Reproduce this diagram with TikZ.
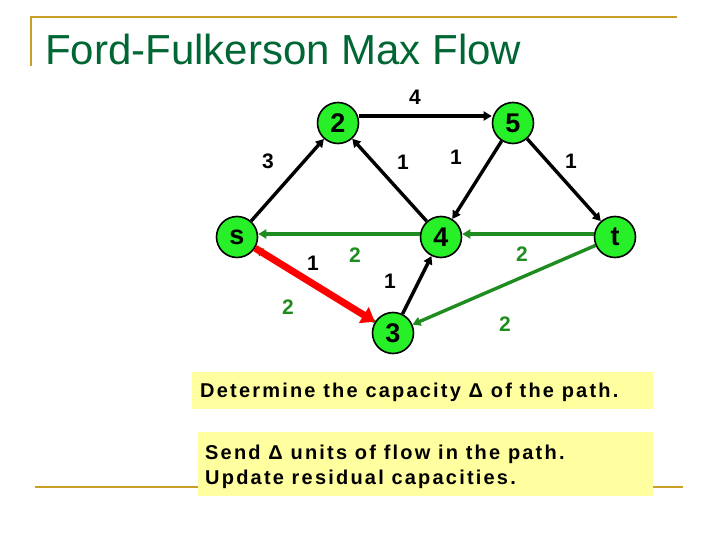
\documentclass[tikz,border=0pt]{standalone}
\usepackage{fontspec}
\setmainfont{Liberation Sans}
\usetikzlibrary{arrows.meta}
\definecolor{gold}{RGB}{200,160,40}
\definecolor{titlegreen}{RGB}{0,102,51}
\definecolor{nodegreen}{RGB}{40,240,40}
\definecolor{edgegreen}{RGB}{30,140,30}
\definecolor{boxyellow}{RGB}{255,255,160}
\tikzset{
  vtx/.style={circle,draw=black,line width=1.6pt,fill=nodegreen,minimum size=41pt,inner sep=0pt,font=\fontsize{27}{27}\selectfont\bfseries},
  blk/.style={draw=black,line width=3.4pt,-{Triangle[length=8pt,width=9pt]}},
  grn/.style={draw=edgegreen,line width=3.4pt,-{Triangle[length=8pt,width=9pt]}},
  redarr/.style={draw=red,line width=7pt,-{Triangle[length=13pt,width=18pt]}},
  lbl/.style={font=\fontsize{21}{21}\selectfont\bfseries},
  glbl/.style={font=\fontsize{21}{21}\selectfont\bfseries,text=edgegreen},
  txtbox/.style={anchor=base west,inner sep=0pt,font=\fontsize{20}{24}\selectfont\bfseries\addfontfeatures{LetterSpace=11}}
}
\begin{document}
\begin{tikzpicture}[x=1pt,y=-1pt]
\useasboundingbox (0,0) rectangle (720,540);
% frame lines
\draw[gold,line width=2.5pt] (30,17) -- (677,17);
\draw[gold,line width=2.5pt] (31,16) -- (31,66);
\draw[gold,line width=2.5pt] (35,487) -- (683,487);
% title
\node[anchor=base west,inner sep=0pt,text=titlegreen,font=\fontsize{42}{42}\selectfont] (title) at (45,65) {Ford-Fulkerson Max Flow};
% nodes
\node[vtx] (n2) at (338,123) {2};
\node[vtx] (n5) at (513,123) {5};
\node[vtx] (s) at (237,237) {s};
\node[vtx] (n4) at (441,237) {4};
\node[vtx] (t) at (615,237) {t};
\node[vtx] (n3) at (393,333) {3};
% edges
\draw[blk] (s) -- (n2);
\draw[blk] (n2.east) ++(0,-7) coordinate (a25) -- (n5.west |- a25);
\draw[blk] (n4) -- (n2);
\draw[blk] (n5) -- (n4);
\draw[blk] (n5) -- (t);
\draw[blk] (n3) -- (n4);
\draw[grn] (n4.west) ++(0,-3) coordinate (a4s) -- (s.east |- a4s);
\draw[grn] (t.west) ++(0,-3) coordinate (at4) -- (n4.east |- at4);
\draw[grn] (n3) -- (s);
\draw[grn] (t) -- (n3);
\draw[redarr] (s) -- (n3);
% labels
\node[lbl] (l25) at (415,97) {4};
\node[lbl] (ls2) at (268,161) {3};
\node[lbl] (l42) at (403,162) {1};
\node[lbl] (l54) at (456,157) {1};
\node[lbl] (l5t) at (571,161) {1};
\node[lbl] (ls3) at (313,263) {1};
\node[lbl] (l34) at (390,281) {1};
\node[glbl] (l4s) at (355,255) {2};
\node[glbl] (lt4) at (522,254) {2};
\node[glbl] (l3s) at (288,307) {2};
\node[glbl] (lt3) at (505,324) {2};
% boxes
\fill[boxyellow] (192,372) rectangle (653,409);
\node[txtbox] (b1) at (200,397) {Determine the capacity Δ of the path.};
\fill[boxyellow] (198,432) rectangle (653,496);
\node[txtbox] (b2) at (205,459) {Send Δ units of flow in the path.};
\node[txtbox] (b3) at (205,484) {Update residual capacities.};
\end{tikzpicture}
\end{document}
